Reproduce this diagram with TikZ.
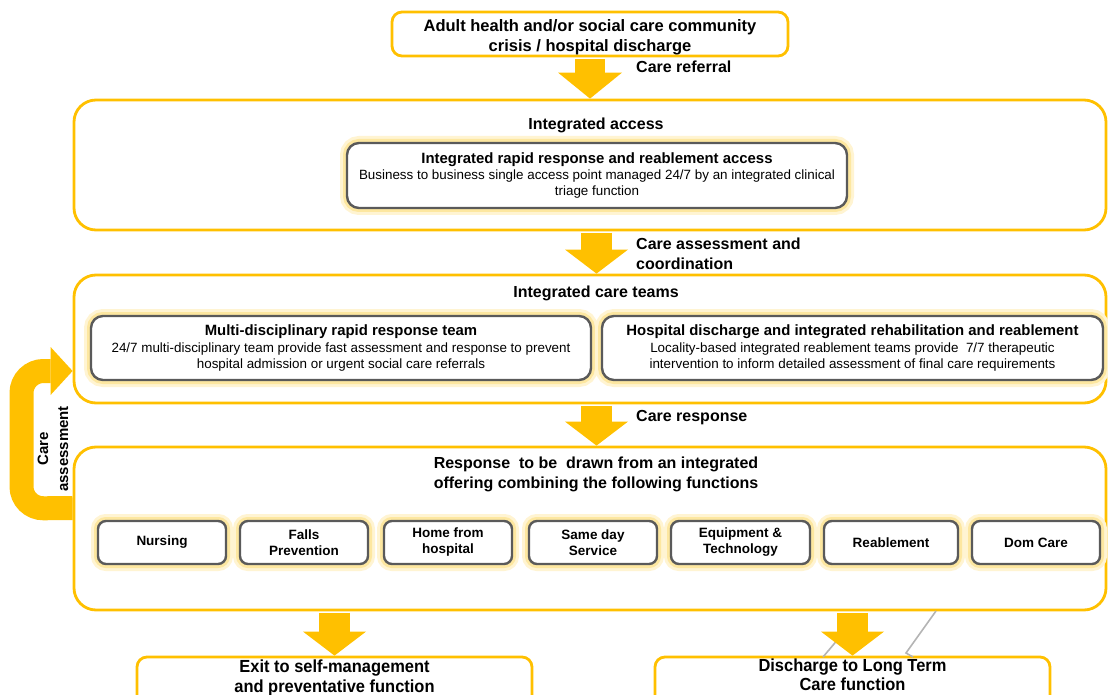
\documentclass[tikz,border=0pt]{standalone}
\usepackage{graphicx}
\usepackage{fontspec}
\setmainfont{Liberation Sans}
\usetikzlibrary{arrows.meta,calc}
\definecolor{ambr}{HTML}{FFC000}
\definecolor{glowin}{HTML}{FDE7A0}
\definecolor{glowout}{HTML}{FFF4D2}
\definecolor{edge}{HTML}{5A5A5A}
\definecolor{wire}{HTML}{B4B4B4}
\newcommand{\narrowtext}[1]{\scalebox{0.94}[1]{\begin{tabular}{@{}c@{}}#1\end{tabular}}}
\newcommand{\cardhead}[1]{{\bfseries\fontsize{14.9}{17}\selectfont #1}}
\begin{document}
\begin{tikzpicture}[x=1pt,y=-1pt,
  panel/.style={draw=ambr, line width=2.8pt, rounded corners=22pt, fill=white, inner sep=0pt},
  endbox/.style={draw=ambr, line width=2.8pt, rounded corners=10pt, fill=white, inner sep=0pt},
  card/.style={draw=edge, line width=2.4pt, rounded corners=12pt, fill=white, inner sep=0pt, align=center,
    font=\fontsize{13.4}{16.2}\selectfont,
    preaction={draw=glowout, line width=14pt}, preaction={draw=glowin, line width=8pt}},
  tile/.style={card, rounded corners=8pt, minimum height=43pt, font=\bfseries\fontsize{13.5}{16}\selectfont},
  ttl/.style={font=\bfseries\fontsize{16}{20}\selectfont, align=center, inner sep=0pt},
  lbl/.style={font=\bfseries\fontsize{16}{19.5}\selectfont, align=left, anchor=west, inner sep=0pt},
  fat/.style={draw=ambr, line width=31pt, shorten <=1.4pt,
    -{Triangle[length=24pt, width=63pt, line width=0pt]}},
  band/.style={draw=ambr, line width=24pt, rounded corners=22pt,
    -{Triangle[length=22pt, width=48pt, line width=0pt]}},
  wireline/.style={draw=wire, line width=1.6pt},
]
\useasboundingbox (0,0) rectangle (1108,695);
\clip (0,0) rectangle (1108,695);

% entry point
\node[endbox, minimum width=396pt, minimum height=44pt] (crisis) at (590,34) {};
\node[ttl, font=\bfseries\fontsize{16.5}{20}\selectfont] (crisisT) at (590,37)
  {Adult health and/or social care community\\crisis / hospital discharge};

% stage panels
\node[panel, minimum width=1032pt, minimum height=130pt] (access) at (590,165) {};
\node[panel, minimum width=1032pt, minimum height=128pt] (teams) at (590,339) {};
\node[panel, minimum width=1032pt, minimum height=163pt] (offer) at (590,528.5) {};

\node[ttl] (accessT) at (596,125) {Integrated access};
\node[ttl] (teamsT) at (596,293) {Integrated care teams};
\node[ttl] (offerT) at (596,474) {Response\ \ to be\ \ drawn from an integrated\\offering combining the following functions};

% access card
\node[card, minimum width=500pt, minimum height=65pt] (rapid) at (597,175.5)
  {\cardhead{Integrated rapid response and reablement access}\\[0.5pt]
   Business to business single access point managed 24/7 by an integrated clinical\\
   triage function};

% care team cards
\node[card, minimum width=500pt, minimum height=64pt] (mdt) at (341,348)
  {\cardhead{Multi-disciplinary rapid response team}\\[0.5pt]
   24/7 multi-disciplinary team provide fast assessment and response to prevent\\
   hospital admission or urgent social care referrals};
\node[card, minimum width=501pt, minimum height=64pt] (hosp) at (852.5,348)
  {\cardhead{Hospital discharge and integrated rehabilitation and reablement}\\[0.5pt]
   Locality-based integrated reablement teams provide\ \ 7/7 therapeutic\\
   intervention to inform detailed assessment of final care requirements};

% service functions
\node[tile, minimum width=128pt] (nursing) at (162,542.5) {Nursing};
\node[tile, minimum width=128pt] (falls) at (304,542.5) {Falls\\Prevention};
\node[tile, minimum width=128pt] (home) at (448,542.5) {Home from\\hospital};
\node[tile, minimum width=128pt] (sameday) at (593,542.5) {Same day\\Service};
\node[tile, minimum width=139pt] (equip) at (740.5,542.5) {Equipment \&\\Technology};
\node[tile, minimum width=134pt] (reable) at (891,542.5) {Reablement};
\node[tile, minimum width=128pt] (dom) at (1036,542.5) {Dom Care};

% outcomes
\node[endbox, minimum width=395pt, minimum height=70pt] (exit) at (334.5,692) {};
\node[endbox, minimum width=395pt, minimum height=70pt] (ltc) at (852.5,692) {};
\node[font=\bfseries\fontsize{17.5}{19.5}\selectfont, inner sep=0pt] (exitT) at (334.5,678.5)
  {\narrowtext{Exit to self-management\\and preventative function}};
\node[font=\bfseries\fontsize{17.5}{19.5}\selectfont, inner sep=0pt] (ltcT) at (852.5,677)
  {\narrowtext{Discharge to Long Term\\Care function}};

% grey connector remnants behind the right outcome arrow
\coordinate (w1) at (936,611);
\coordinate (w2) at (906,653);
\coordinate (w3) at (913,657);
\coordinate (w4) at (850,625);
\coordinate (w5) at (823,657);
\draw[wireline] (w1) -- (w2) -- (w3);
\draw[wireline] (w4) -- (w5);

% flow arrows
\draw[fat, -{Triangle[length=26pt, width=64pt, line width=0pt]}, line width=30pt] (crisis.south) -- (access.north);
\draw[fat] ([xshift=6.5pt]access.south) -- ([xshift=6.5pt]teams.north);
\draw[fat] ([xshift=6.5pt]teams.south) -- ([xshift=6.5pt]offer.north);
\draw[fat] (offer.south -| exit.north) -- (exit.north);
\draw[fat] (offer.south -| ltc.north) -- (ltc.north);

% feedback loop
\draw[band] ([yshift=20.5pt]offer.west) -- (21.5,508.5) -- (21.5,371) -- ([yshift=-32pt]teams.west);
\node[font=\bfseries\fontsize{15}{20}\selectfont, align=center, rotate=90, inner sep=0pt] (loopT) at (53,449)
  {Care\\assessment};

% arrow labels
\node[lbl] (refT) at (636,67) {Care referral};
\node[lbl] (coordT) at (636,254) {Care assessment and\\coordination};
\node[lbl] (respT) at (636,418) {Care response};
\end{tikzpicture}
\end{document}
